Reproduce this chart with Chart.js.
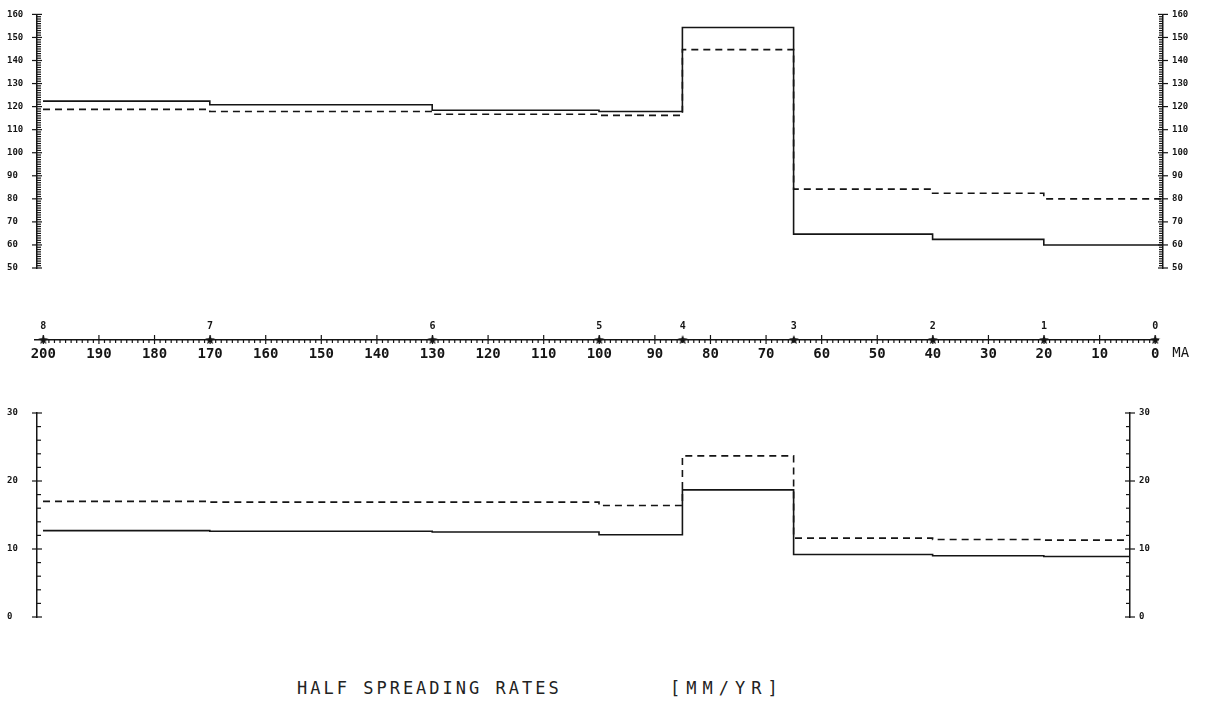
<!DOCTYPE html>
<html>
<head>
<meta charset="utf-8">
<script src="https://cdn.jsdelivr.net/npm/chart.js@4.4.1/dist/chart.umd.min.js"></script>
<style>
  body { margin: 0; background: #fff; }
  #page { position: relative; width: 1215px; height: 705px; }
  .panel { position: absolute; left: 0; width: 1215px; }
  .title {
    position: absolute; top: 678px;
    font-family: "DejaVu Sans Mono", monospace; font-size: 17px;
    color: #222; white-space: pre;
  }
</style>
</head>
<body>
<div id="page">
  <div class="panel" style="top:0;height:290px"><canvas id="topChart"></canvas></div>
  <div class="panel" style="top:290px;height:80px"><canvas id="timeChart"></canvas></div>
  <div class="panel" style="top:370px;height:290px"><canvas id="botChart"></canvas></div>
  <div class="title" style="left:297px;letter-spacing:3px">HALF SPREADING RATES</div>
  <div class="title" style="left:670px;letter-spacing:6px">[MM/YR]</div>
</div>
<script>
// step start ages (MA), each value holds until the next age
const stepAges = [200, 170, 130, 100, 85, 65, 40, 20];
const topSolid  = [122.4, 120.8, 118.4, 117.9, 154.3, 64.7, 62.4, 60.0];
const topDashed = [118.8, 117.9, 116.7, 116.2, 144.7, 84.2, 82.4, 80.0];
const botSolid  = [12.7, 12.6, 12.5, 12.1, 18.7, 9.2, 9.0, 8.9];
const botDashed = [17.0, 16.9, 16.9, 16.4, 23.7, 11.6, 11.4, 11.3];

// numbered markers on the time axis
const markerAges   = [200, 170, 130, 100, 85, 65, 40, 20, 0];
const markerLabels = ['8', '7', '6', '5', '4', '3', '2', '1', '0'];

// tick labels
const ageLabels   = [0, 10, 20, 30, 40, 50, 60, 70, 80, 90, 100, 110, 120, 130, 140, 150, 160, 170, 180, 190, 200];
const topYLabels  = [50, 60, 70, 80, 90, 100, 110, 120, 130, 140, 150, 160];
const botYLabels  = [0, 10, 20, 30];

const INK = '#151515';
const xHi = 201.08;

function steps(vals, end) {
  const pts = stepAges.map((a, i) => ({ x: a, y: vals[i] }));
  pts.push({ x: end, y: vals[vals.length - 1] });
  return pts;
}

function starImage(r) {
  const c = document.createElement('canvas');
  c.width = c.height = 2 * r + 2;
  const g = c.getContext('2d');
  g.fillStyle = INK;
  g.beginPath();
  for (let i = 0; i < 10; i++) {
    const ang = -Math.PI / 2 + i * Math.PI / 5;
    const rad = i % 2 ? r * 0.45 : r;
    g.lineTo(r + 1 + rad * Math.cos(ang), r + 1 + rad * Math.sin(ang));
  }
  g.closePath();
  g.fill();
  return c;
}

// minor ticks inward, major ticks crossing the axis line
const tickMarks = {
  id: 'tickMarks',
  afterDraw(chart, args, opts) {
    const ctx = chart.ctx;
    ctx.save();
    ctx.strokeStyle = INK;
    ctx.lineWidth = 1.2;
    (opts.axes || []).forEach(a => {
      const s = chart.scales[a.id];
      for (let v = a.from; v <= a.to + 1e-6; v += a.minor) {
        const major = Math.abs(v / a.major - Math.round(v / a.major)) < 1e-6;
        const p = s.getPixelForValue(v);
        ctx.beginPath();
        if (s.isHorizontal()) {
          const y0 = s.top;
          if (major) { ctx.moveTo(p, y0 - 5); ctx.lineTo(p, y0 + 4); }
          else { ctx.moveTo(p, y0); ctx.lineTo(p, y0 + 3); }
        } else {
          const left = s.position === 'left';
          const x0 = left ? s.right : s.left;
          const dir = left ? 1 : -1;
          if (major) { ctx.moveTo(x0 - 5, p); ctx.lineTo(x0 + 5, p); }
          else { ctx.moveTo(x0, p); ctx.lineTo(x0 + dir * 4, p); }
        }
        ctx.stroke();
      }
    });
    ctx.restore();
  }
};

const markerText = {
  id: 'markerText',
  afterDatasetsDraw(chart) {
    const ctx = chart.ctx;
    const meta = chart.getDatasetMeta(0);
    ctx.save();
    ctx.fillStyle = INK;
    ctx.font = 'bold 10px "DejaVu Sans Mono"';
    ctx.textAlign = 'center';
    ctx.textBaseline = 'bottom';
    meta.data.forEach((pt, i) => ctx.fillText(markerLabels[i], pt.x, pt.y - 9));
    const x = chart.scales.x;
    ctx.font = '14px "DejaVu Sans Mono"';
    ctx.textAlign = 'left';
    ctx.textBaseline = 'top';
    ctx.fillText('MA', x.getPixelForValue(0) + 17, x.top + 6);
    ctx.restore();
  }
};

function lineSet(data, dashed) {
  return {
    data: data,
    borderColor: INK,
    borderWidth: 1.6,
    borderDash: dashed ? [7, 5] : [],
    pointRadius: 0,
    stepped: 'before',
    fill: false,
    clip: false
  };
}

function yAxis(pos, min, max, labels, width, pad) {
  return {
    type: 'linear',
    position: pos,
    min: min,
    max: max,
    afterFit: s => { s.width = width; },
    afterBuildTicks: s => { s.ticks = labels.map(v => ({ value: v })); },
    ticks: {
      color: INK,
      font: { family: 'DejaVu Sans Mono', size: 9, weight: 'bold' },
      crossAlign: pos === 'left' ? 'far' : 'near',
      padding: pad
    },
    grid: { drawOnChartArea: false, drawTicks: false },
    border: { color: INK, width: 1.5 }
  };
}

function panel(id, solid, dashed, min, max, labels, minorStep, padTop, padBottom, xLo, rightW) {
  new Chart(document.getElementById(id), {
    type: 'line',
    data: { datasets: [lineSet(steps(solid, xLo), false), lineSet(steps(dashed, xLo), true)] },
    options: {
      responsive: true,
      maintainAspectRatio: false,
      animation: false,
      layout: { padding: { top: padTop, bottom: padBottom, left: 7, right: 0 } },
      plugins: {
        legend: { display: false },
        tooltip: { enabled: false },
        tickMarks: { axes: [
          { id: 'y', from: min, to: max, minor: minorStep, major: 10 },
          { id: 'y2', from: min, to: max, minor: minorStep, major: 10 }
        ] }
      },
      scales: {
        x: { type: 'linear', display: false, min: xLo, max: xHi, reverse: true },
        y: yAxis('left', min, max, labels, 30, 0),
        y2: yAxis('right', min, max, labels, rightW, 9)
      }
    },
    plugins: [tickMarks]
  });
}

panel('topChart', topSolid, topDashed, 50, 160, topYLabels, 1, 13, 22, -1.44, 52);
panel('botChart', botSolid, botDashed, 0, 30, botYLabels, 2, 43, 43, 4.5, 85);

new Chart(document.getElementById('timeChart'), {
  type: 'scatter',
  data: {
    datasets: [{
      data: markerAges.map(a => ({ x: a, y: 0 })),
      pointStyle: starImage(5),
      pointRadius: 5,
      clip: false
    }]
  },
  options: {
    responsive: true,
    maintainAspectRatio: false,
    animation: false,
    layout: { padding: { top: 0, bottom: 0, left: 35, right: 57 } },
    plugins: {
      legend: { display: false },
      tooltip: { enabled: false },
      tickMarks: { axes: [{ id: 'x', from: 0, to: 200, minor: 1, major: 10 }] }
    },
    scales: {
      x: {
        type: 'linear',
        min: -0.5,
        max: 201.5,
        reverse: true,
        afterFit: s => { s.height = 30; },
        afterBuildTicks: s => { s.ticks = ageLabels.map(v => ({ value: v })); },
        ticks: {
          color: INK,
          font: { family: 'DejaVu Sans Mono', size: 14, weight: 'bold' },
          padding: 6,
          autoSkip: false,
          maxRotation: 0
        },
        grid: { drawOnChartArea: false, drawTicks: false },
        border: { color: INK, width: 1.5 }
      },
      y: { display: false, min: 0, max: 1 }
    }
  },
  plugins: [tickMarks, markerText]
});
</script>
</body>
</html>
